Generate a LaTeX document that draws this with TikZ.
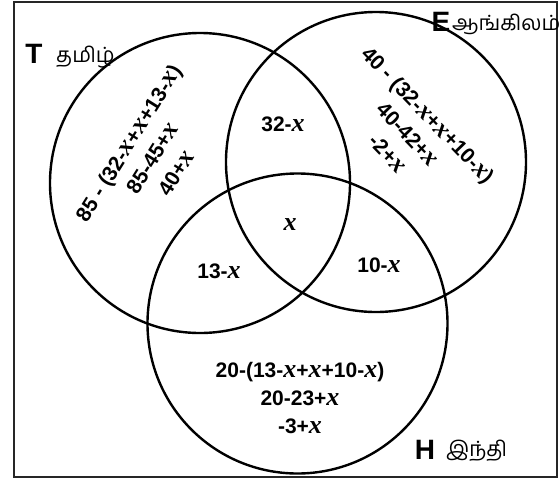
\documentclass[tikz,border=0pt]{standalone}
\usepackage{fontspec}
\setmainfont{Liberation Sans}
\newfontfamily\xfont{Liberation Serif}
\newfontfamily\tamil[Script=Tamil]{Hind Madurai}
\newcommand{\vx}{{\xfont\itshape\fontsize{26}{28}\selectfont x}}
\begin{document}
\begin{tikzpicture}[x=1pt,y=-1pt,
  setc/.style={circle,draw,line width=2.4pt,minimum size=300pt,inner sep=0pt,outer sep=0pt},
  lbl/.style={font=\bfseries\fontsize{21}{28}\selectfont,inner sep=0pt,align=center},
  big/.style={font=\bfseries\fontsize{28}{30}\selectfont,inner sep=0pt},
  tam/.style={font=\tamil\fontsize{21}{24}\selectfont,inner sep=0pt}]
\useasboundingbox (0,0) rectangle (560,480);
\node[draw=black!85,line width=1.8pt,minimum width=543pt,minimum height=475pt,inner sep=0pt,outer sep=0pt,anchor=north west] (frame) at (14,2) {};
\node[setc] (T) at (200,183) {};
\node[setc] (E) at (376,162) {};
\node[setc] (H) at (297.5,323.5) {};
% labels
\node[big] (tT) at (34,54) {T};
\node[tam,anchor=west] (tTam) at (56,57) {தமிழ்};
\node[big] (tE) at (441,22) {E};
\node[tam,anchor=west] (tEam) at (452,24) {ஆங்கிலம்};
\node[big] (tH) at (425,450) {H};
\node[tam,anchor=west] (tHam) at (446,451) {இந்தி};
% T only
\node[lbl,rotate=58] (tonly) at (152,158) {85 - (32-\vx+\vx+13-\vx)\\85-45+\vx\\40+\vx};
% E only
\node[lbl,rotate=-46] (eonly) at (408,134) {40 - (32-\vx+\vx+10-\vx)\\40-42+\vx\\-2+\vx};
% intersections
\node[lbl] (te) at (283,124) {32-\vx};
\node[lbl] (teh) at (290,225) {\vx};
\node[lbl] (th) at (219,271) {13-\vx};
\node[lbl] (eh) at (379,265) {10-\vx};
% H only
\node[lbl] (honly) at (300,398) {20-(13-\vx+\vx+10-\vx)\\20-23+\vx\\-3+\vx};
\end{tikzpicture}
\end{document}
